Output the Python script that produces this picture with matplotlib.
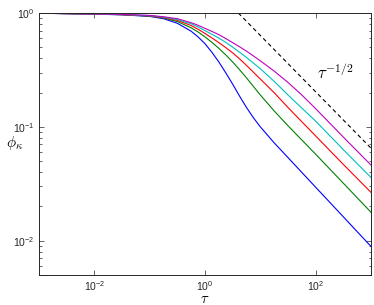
import matplotlib
matplotlib.use("Agg")
import matplotlib.pyplot as plt
from matplotlib.ticker import LogLocator, NullLocator, FixedLocator
import numpy as np

# ── Data ───────────────────────────────────────────────────────────────────────

tau = [0.001, 0.01, 0.0316, 0.1, 0.178, 0.316, 0.562, 0.750, 1.0, 1.334,
       1.778, 2.371, 3.162, 4.217, 5.623, 7.499, 10.0, 13.34, 17.78, 23.71,
       31.62, 56.23, 100.0, 316.2, 1000.0]

phi_1 = [0.9954, 0.9772, 0.9638, 0.9333, 0.8913, 0.8128, 0.6918, 0.6166, 0.5370,
         0.4519, 0.3715, 0.2985, 0.2371, 0.1862, 0.1479, 0.1202, 0.1000, 0.0851,
         0.0724, 0.0624, 0.0537, 0.0398, 0.0295, 0.01622, 0.00891]
phi_2 = [0.9954, 0.9795, 0.9661, 0.9397, 0.9036, 0.8414, 0.7413, 0.6808, 0.6166,
         0.5521, 0.4898, 0.4285, 0.3715, 0.3177, 0.2692, 0.2265, 0.1905, 0.1622,
         0.1380, 0.1189, 0.1023, 0.0767, 0.0575, 0.0320, 0.01778]
phi_3 = [0.9954, 0.9795, 0.9683, 0.9441, 0.9120, 0.8610, 0.7762, 0.7194, 0.6607,
         0.6039, 0.5495, 0.4966, 0.4467, 0.3954, 0.3467, 0.3020, 0.2630, 0.2291,
         0.1995, 0.1718, 0.1479, 0.1109, 0.0832, 0.0468, 0.0266]
phi_4 = [0.9954, 0.9817, 0.9705, 0.9484, 0.9204, 0.8750, 0.8035, 0.7534, 0.6998,
         0.6501, 0.6026, 0.5521, 0.5012, 0.4519, 0.4074, 0.3631, 0.3236, 0.2851,
         0.2512, 0.2188, 0.1905, 0.1462, 0.1122, 0.0631, 0.0359]
phi_5 = [0.9954, 0.9817, 0.9727, 0.9528, 0.9268, 0.8913, 0.8222, 0.7798, 0.7328,
         0.6887, 0.6457, 0.5970, 0.5495, 0.5047, 0.4624, 0.4198, 0.3802, 0.3428,
         0.3090, 0.2754, 0.2455, 0.1905, 0.1445, 0.0813, 0.0462]

# tau^(-1/2) guide line
guide_tau = [4.0, 1000.0]
guide_phi = [1.0, 0.065]

# old MATLAB line order
COLORS = ["#0000ff", "#008000", "#ff0000", "#00bfbf", "#bf00bf"]

# ── Figure ─────────────────────────────────────────────────────────────────────

plt.rcParams["font.family"] = ["Liberation Sans", "DejaVu Sans"]
plt.rcParams["mathtext.fontset"] = "custom"
plt.rcParams["mathtext.rm"] = "Liberation Sans"
plt.rcParams["mathtext.it"] = "Liberation Sans:italic"

fig = plt.figure(figsize=(3.74, 3.05), dpi=100)
ax = fig.add_axes([39 / 374, 1 - 275 / 305, 332 / 374, 262 / 305])

for ys, c in zip([phi_1, phi_2, phi_3, phi_4, phi_5], COLORS):
    ax.loglog(tau, ys, color=c, linewidth=0.8)

ax.loglog(guide_tau, guide_phi, color="black", linewidth=0.8,
          dashes=(3.6, 2.8))
ax.text(105, 0.30, r"$\tau^{-1/2}$", fontsize=12, ha="left", va="center",
        math_fontfamily="cm")

# ── Axes ───────────────────────────────────────────────────────────────────────

ax.set_xlim(1e-3, 1e3)
ax.set_ylim(0.005, 1)

ax.xaxis.set_major_locator(FixedLocator([1e-2, 1e0, 1e2]))
ax.xaxis.set_minor_locator(NullLocator())
ax.yaxis.set_major_locator(FixedLocator([1e-2, 1e-1, 1e0]))
ax.yaxis.set_minor_locator(LogLocator(base=10, subs=np.arange(2, 10), numticks=10))

ax.tick_params(which="both", direction="in", top=True, right=True,
               labelsize=7.5, width=0.5, colors="#262626")
ax.tick_params(which="major", length=3.5, pad=3)
ax.tick_params(which="minor", length=1.8)

for spine in ax.spines.values():
    spine.set_linewidth(0.7)
    spine.set_color("#262626")

ax.set_xlabel(r"$\tau$", fontsize=10.5, math_fontfamily="cm", labelpad=-0.8)
ax.set_ylabel(r"$\phi_\kappa$", fontsize=11, math_fontfamily="cm",
              rotation=0, ha="center", va="center")
ax.yaxis.set_label_coords(-0.075, 0.505)

fig.savefig("out.png", dpi=100, facecolor="white")
plt.close(fig)
